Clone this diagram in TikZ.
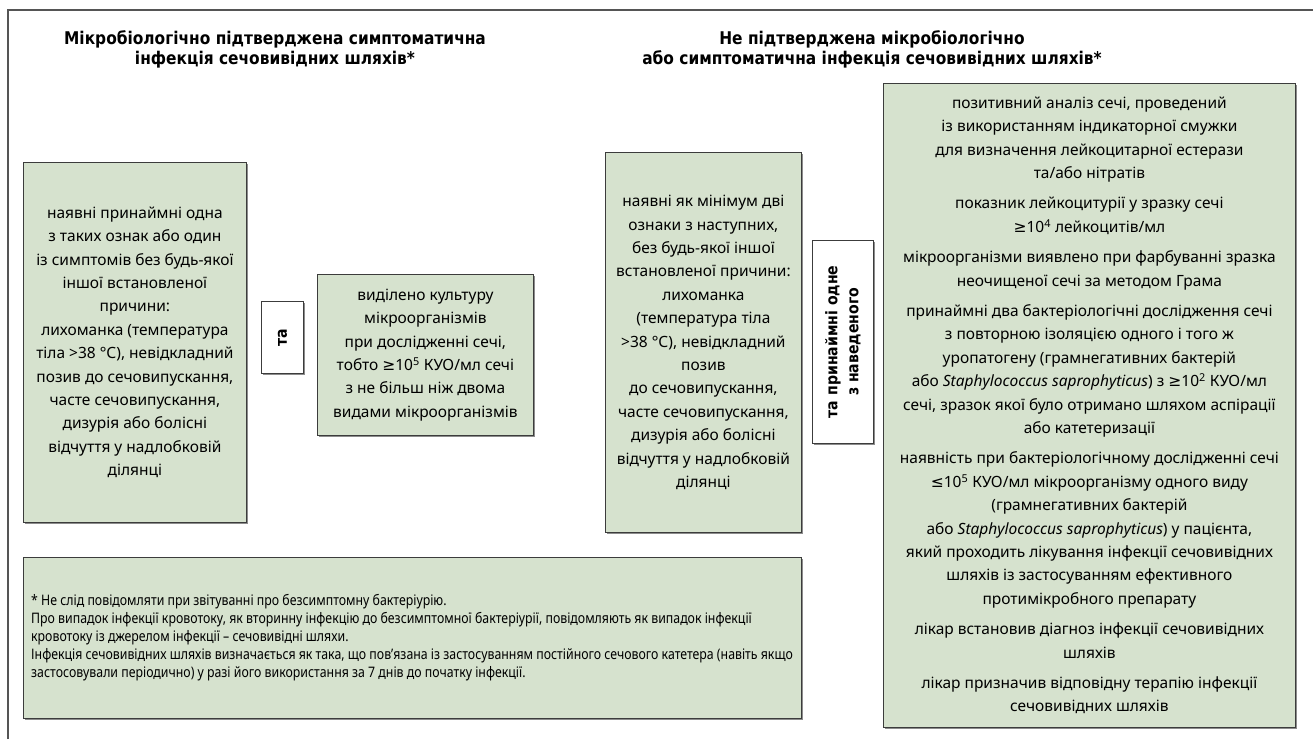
\documentclass[tikz,border=0pt]{standalone}
\usepackage{fontspec}
\setmainfont{Noto Sans}
\newfontfamily\headfont{DejaVu Sans}[FakeStretch=0.88]
\newfontfamily\notefont{Noto Sans}[FakeStretch=0.85]
\newfontfamily\mathsignfont{DejaVu Sans}
\newcommand\gesign{{\mathsignfont ≥}}
\newcommand\lesign{{\mathsignfont ≤}}
\usetikzlibrary{shadows}
\definecolor{boxgreen}{RGB}{214,226,206}
\definecolor{edgegray}{RGB}{60,60,60}
\definecolor{framegray}{RGB}{85,85,85}
\tikzset{
  boxshadow/.style={drop shadow={shadow xshift=1.3pt, shadow yshift=-1.3pt, fill=black!45, opacity=1}},
  greenbox/.style={draw=edgegray, line width=0.8pt, fill=boxgreen, boxshadow,
    inner sep=0pt, align=center, anchor=north west,
    font=\fontsize{15.5}{23.4}\selectfont},
  andbox/.style={draw=edgegray, line width=0.8pt, fill=white, boxshadow,
    inner sep=0pt, anchor=north west},
  andtext/.style={rotate=90, align=center, inner sep=0pt,
    font=\headfont\bfseries\fontsize{16}{21}\selectfont},
  heading/.style={align=center, inner sep=0pt,
    font=\headfont\bfseries\fontsize{17.5}{20}\selectfont},
  notetext/.style={align=left, inner sep=0pt, anchor=west,
    font=\notefont\fontsize{14.5}{18}\selectfont},
}
\begin{document}
\begin{tikzpicture}[x=1pt, y=-1pt]
\useasboundingbox (0,0) rectangle (1313,739);

% outer frame: top and left rules only
\draw[framegray, line width=1.3pt] (8,739) -- (8,10) -- (1313,10);

% column headings
\node[heading] (headA) at (275,49)
  {Мікробіологічно підтверджена симптоматична\\інфекція сечовивідних шляхів*};
\node[heading] (headB) at (872,49)
  {Не підтверджена мікробіологічно\\або симптоматична інфекція сечовивідних шляхів*};

% left branch
\node[greenbox, minimum width=223pt, minimum height=360pt] (critA) at (23,162)
  {наявні принаймні одна\\
   з таких ознак або один\\
   із симптомів без будь-якої\\
   іншої встановленої\\
   причини:\\
   лихоманка (температура\\
   тіла >38 °С), невідкладний\\
   позив до сечовипускання,\\
   часте сечовипускання,\\
   дизурія або болісні\\
   відчуття у надлобковій\\
   ділянці};

\node[andbox, minimum width=42pt, minimum height=72pt] (andA) at (261,301) {};
\node[andtext] (andAtext) at (andA.center) {та};

\node[greenbox, minimum width=216pt, minimum height=161pt] (culture) at (317,274)
  {виділено культуру\\
   мікроорганізмів\\
   при дослідженні сечі,\\
   тобто \gesign10\textsuperscript{5} КУО/мл сечі\\
   з не більш ніж двома\\
   видами мікроорганізмів};

% right branch
\node[greenbox, minimum width=196pt, minimum height=380pt] (critB) at (605,152)
  {наявні як мінімум дві\\
   ознаки з наступних,\\
   без будь-якої іншої\\
   встановленої причини:\\
   лихоманка\\
   (температура тіла\\
   >38 °С), невідкладний\\
   позив\\
   до сечовипускання,\\
   часте сечовипускання,\\
   дизурія або болісні\\
   відчуття у надлобковій\\
   ділянці};

\node[andbox, minimum width=61pt, minimum height=203pt] (andB) at (812,240) {};
\node[andtext] (andBtext) at (andB.center) {та принаймні одне\\з наведеного};

\node[greenbox, minimum width=412pt, minimum height=644pt] (signs) at (883,83)
  {позитивний аналіз сечі, проведений\\
   із використанням індикаторної смужки\\
   для визначення лейкоцитарної естерази\\
   та/або нітратів\\[7pt]
   показник лейкоцитурії у зразку сечі\\
   \gesign10\textsuperscript{4} лейкоцитів/мл\\[7pt]
   мікроорганізми виявлено при фарбуванні зразка\\
   неочищеної сечі за методом Грама\\[7pt]
   принаймні два бактеріологічні дослідження сечі\\
   з повторною ізоляцією одного і того ж\\
   уропатогену (грамнегативних бактерій\\
   або \textit{Staphylococcus saprophyticus}) з \gesign10\textsuperscript{2} КУО/мл\\
   сечі, зразок якої було отримано шляхом аспірації\\
   або катетеризації\\[7pt]
   наявність при бактеріологічному дослідженні сечі\\
   \lesign10\textsuperscript{5} КУО/мл мікроорганізму одного виду\\
   (грамнегативних бактерій\\
   або \textit{Staphylococcus saprophyticus}) у пацієнта,\\
   який проходить лікування інфекції сечовивідних\\
   шляхів із застосуванням ефективного\\
   протимікробного препарату\\[7pt]
   лікар встановив діагноз інфекції сечовивідних\\
   шляхів\\[7pt]
   лікар призначив відповідну терапію інфекції\\
   сечовивідних шляхів};

% footnote panel
\node[greenbox, minimum width=778pt, minimum height=161pt] (note) at (23,557) {};
\node[notetext] (notetxt) at ([xshift=8pt]note.west)
  {* Не слід повідомляти при звітуванні про безсимптомну бактеріурію.\\
   Про випадок інфекції кровотоку, як вторинну інфекцію до безсимптомної бактеріурії, повідомляють як випадок інфекції\\
   кровотоку із джерелом інфекції – сечовивідні шляхи.\\
   Інфекція сечовивідних шляхів визначається як така, що пов’язана із застосуванням постійного сечового катетера (навіть якщо\\
   застосовували періодично) у разі його використання за 7 днів до початку інфекції.};
\end{tikzpicture}
\end{document}
